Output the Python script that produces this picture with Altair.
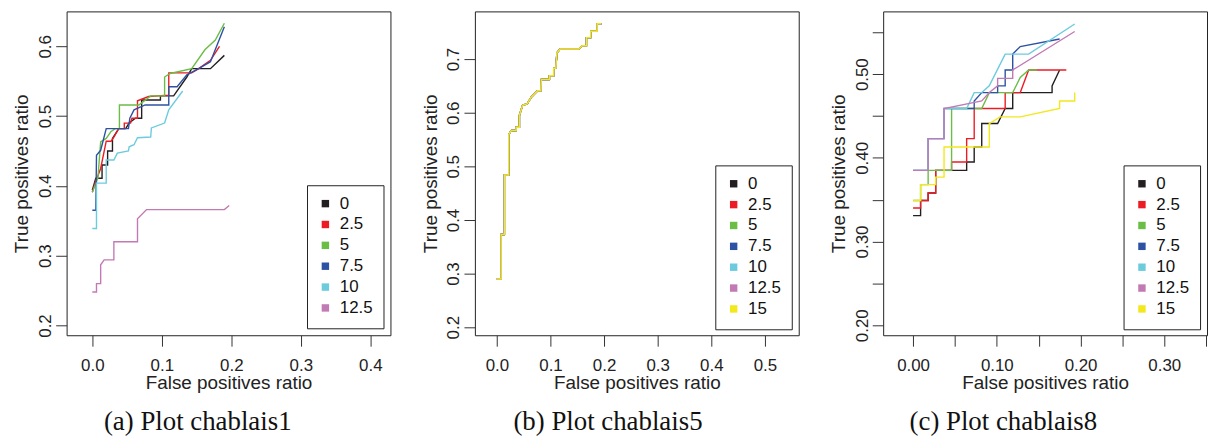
import altair as alt
import pandas as pd

# ---------------- data ----------------
SERIES = ["0", "2.5", "5", "7.5", "10", "12.5", "15"]
COLORS = ["#231F20", "#EC1C24", "#6ABD45", "#2E52A3", "#6CCBDD", "#C27AB5", "#F2E81B"]

# Panel (a) chablais1
P1_0_X = [0.000, 0.005, 0.014, 0.014, 0.022, 0.022, 0.029, 0.029, 0.038, 0.048, 0.053, 0.062, 0.071, 0.071, 0.098, 0.098, 0.117, 0.136, 0.143, 0.170, 0.190]
P1_0_Y = [0.394, 0.411, 0.411, 0.430, 0.430, 0.450, 0.450, 0.468, 0.482, 0.482, 0.490, 0.497, 0.497, 0.523, 0.523, 0.529, 0.529, 0.556, 0.568, 0.568, 0.587]
P1_25_X = [0.000, 0.004, 0.012, 0.020, 0.027, 0.031, 0.038, 0.046, 0.046, 0.055, 0.057, 0.065, 0.065, 0.081, 0.110, 0.110, 0.143, 0.153, 0.170, 0.183]
P1_25_Y = [0.391, 0.404, 0.425, 0.464, 0.464, 0.470, 0.482, 0.482, 0.490, 0.490, 0.497, 0.497, 0.522, 0.528, 0.530, 0.562, 0.562, 0.568, 0.580, 0.600]
P1_5_X = [0.000, 0.008, 0.012, 0.020, 0.027, 0.033, 0.039, 0.039, 0.067, 0.084, 0.104, 0.104, 0.112, 0.143, 0.162, 0.177, 0.190]
P1_5_Y = [0.391, 0.411, 0.463, 0.468, 0.478, 0.482, 0.482, 0.516, 0.516, 0.529, 0.529, 0.556, 0.561, 0.568, 0.595, 0.609, 0.633]
P1_75_X = [0.000, 0.005, 0.006, 0.012, 0.020, 0.052, 0.054, 0.060, 0.076, 0.110, 0.110, 0.122, 0.136, 0.153, 0.170, 0.190]
P1_75_Y = [0.365, 0.365, 0.444, 0.451, 0.482, 0.482, 0.497, 0.509, 0.516, 0.516, 0.542, 0.542, 0.559, 0.568, 0.578, 0.628]
P1_10_X = [0.000, 0.006, 0.006, 0.020, 0.020, 0.031, 0.036, 0.052, 0.053, 0.060, 0.065, 0.084, 0.085, 0.104, 0.110, 0.130]
P1_10_Y = [0.339, 0.339, 0.404, 0.404, 0.437, 0.437, 0.447, 0.450, 0.456, 0.459, 0.469, 0.470, 0.483, 0.490, 0.509, 0.536]
P1_125_X = [0.000, 0.006, 0.006, 0.012, 0.012, 0.017, 0.031, 0.031, 0.065, 0.065, 0.078, 0.190, 0.197]
P1_125_Y = [0.248, 0.248, 0.260, 0.260, 0.287, 0.294, 0.294, 0.320, 0.320, 0.353, 0.366, 0.366, 0.372]

# Panel (b) chablais5 (all settings give the same curve)
P2_X = [0.000, 0.008, 0.008, 0.014, 0.014, 0.022, 0.022, 0.027, 0.036, 0.036, 0.042, 0.042, 0.048, 0.057, 0.064, 0.076, 0.082, 0.083, 0.098, 0.098, 0.106, 0.106, 0.110, 0.112, 0.118, 0.153, 0.159, 0.167, 0.167, 0.175, 0.175, 0.187, 0.187, 0.195]
P2_Y = [0.290, 0.290, 0.373, 0.373, 0.484, 0.484, 0.559, 0.567, 0.567, 0.573, 0.573, 0.595, 0.614, 0.617, 0.629, 0.641, 0.641, 0.662, 0.662, 0.669, 0.669, 0.683, 0.683, 0.712, 0.719, 0.719, 0.725, 0.725, 0.740, 0.740, 0.752, 0.752, 0.766, 0.766]

# Panel (c) chablais8
P3_0_X = [0.000, 0.009, 0.009, 0.018, 0.018, 0.027, 0.027, 0.064, 0.064, 0.073, 0.073, 0.082, 0.082, 0.101, 0.110, 0.119, 0.119, 0.166, 0.166, 0.175]
P3_0_Y = [0.331, 0.331, 0.349, 0.349, 0.358, 0.358, 0.385, 0.385, 0.395, 0.395, 0.413, 0.413, 0.441, 0.441, 0.459, 0.459, 0.478, 0.478, 0.486, 0.505]
P3_25_X = [0.000, 0.009, 0.009, 0.018, 0.018, 0.027, 0.027, 0.046, 0.046, 0.064, 0.064, 0.073, 0.073, 0.110, 0.110, 0.128, 0.138, 0.183]
P3_25_Y = [0.340, 0.340, 0.349, 0.349, 0.358, 0.358, 0.385, 0.385, 0.395, 0.395, 0.423, 0.423, 0.459, 0.459, 0.478, 0.478, 0.505, 0.505]
P3_5_X = [0.000, 0.009, 0.009, 0.018, 0.018, 0.046, 0.046, 0.082, 0.091, 0.119, 0.128, 0.138, 0.148]
P3_5_Y = [0.349, 0.349, 0.368, 0.368, 0.385, 0.385, 0.459, 0.459, 0.478, 0.478, 0.496, 0.505, 0.505]
P3_75_X = [0.000, 0.018, 0.018, 0.037, 0.037, 0.073, 0.073, 0.082, 0.101, 0.101, 0.110, 0.110, 0.119, 0.119, 0.128, 0.175]
P3_75_Y = [0.385, 0.385, 0.423, 0.423, 0.459, 0.459, 0.468, 0.478, 0.478, 0.486, 0.486, 0.505, 0.505, 0.524, 0.533, 0.542]
P3_10_X = [0.000, 0.018, 0.018, 0.037, 0.037, 0.064, 0.073, 0.082, 0.091, 0.110, 0.138, 0.193]
P3_10_Y = [0.385, 0.385, 0.423, 0.423, 0.459, 0.459, 0.478, 0.478, 0.486, 0.524, 0.524, 0.560]
P3_125_X = [0.000, 0.018, 0.018, 0.037, 0.037, 0.082, 0.091, 0.101, 0.101, 0.119, 0.119, 0.193]
P3_125_Y = [0.385, 0.385, 0.423, 0.423, 0.459, 0.468, 0.478, 0.486, 0.495, 0.495, 0.505, 0.551]
P3_15_X = [0.000, 0.009, 0.009, 0.027, 0.027, 0.037, 0.037, 0.091, 0.091, 0.104, 0.128, 0.175, 0.175, 0.193, 0.193]
P3_15_Y = [0.349, 0.349, 0.368, 0.368, 0.377, 0.377, 0.413, 0.413, 0.441, 0.449, 0.449, 0.459, 0.468, 0.468, 0.478]

P1_TICKS_X = [0.0, 0.1, 0.2, 0.3, 0.4]
P1_TICKS_Y = [0.2, 0.3, 0.4, 0.5, 0.6]
P2_TICKS_X = [0.0, 0.1, 0.2, 0.3, 0.4, 0.5]
P2_TICKS_Y = [0.2, 0.3, 0.4, 0.5, 0.6, 0.7]
P3_TICKS_X = [0.0, 0.05, 0.10, 0.15, 0.20, 0.25, 0.30, 0.35]
P3_TICKS_Y = [0.20, 0.25, 0.30, 0.35, 0.40, 0.45, 0.50, 0.55]

CAPTIONS = ["(a) Plot chablais1", "(b) Plot chablais5", "(c) Plot chablais8"]
X_TITLE = "False positives ratio"
Y_TITLE = "True positives ratio"


def frame(series):
    rows = []
    for name, xs, ys in series:
        for i, (x, y) in enumerate(zip(xs, ys)):
            rows.append({"series": name, "fpr": x, "tpr": y, "i": i})
    return pd.DataFrame(rows)


def panel(df, names, xdom, ydom, xticks, yticks, xexpr, yexpr, caption, legend_y, cap_dx):
    legend = alt.Legend(
        title=None, orient="none", legendX=242, legendY=legend_y,
        symbolType="square", symbolSize=12, symbolStrokeWidth=4,
        strokeColor="#222", fillColor="white", padding=10, cornerRadius=0,
        labelFont="Liberation Sans", labelFontSize=17, labelColor="#111",
        labelOffset=6, rowPadding=0, symbolOpacity=1,
    )
    return alt.Chart(df).mark_line(strokeWidth=1.4, clip=True).encode(
        x=alt.X("fpr:Q", title=X_TITLE,
                scale=alt.Scale(domain=xdom, nice=False, zero=False),
                axis=alt.Axis(values=xticks, labelExpr=xexpr)),
        y=alt.Y("tpr:Q", title=Y_TITLE,
                scale=alt.Scale(domain=ydom, nice=False, zero=False),
                axis=alt.Axis(values=yticks, labelExpr=yexpr, labelAngle=270)),
        color=alt.Color("series:N", sort=names,
                        scale=alt.Scale(domain=names, range=COLORS[:len(names)]),
                        legend=legend),
        order=alt.Order("i:Q"),
    ).properties(
        width=326, height=326,
        title=alt.TitleParams(caption, orient="bottom", anchor="middle", frame="group",
                              font="Liberation Serif", fontSize=27, fontWeight="normal",
                              color="#111", offset=16, dx=cap_dx),
    )


df1 = frame([
    ("0", P1_0_X, P1_0_Y), ("2.5", P1_25_X, P1_25_Y), ("5", P1_5_X, P1_5_Y),
    ("7.5", P1_75_X, P1_75_Y), ("10", P1_10_X, P1_10_Y), ("12.5", P1_125_X, P1_125_Y),
])
df2 = frame([(s, P2_X, P2_Y) for s in SERIES])
df3 = frame([
    ("0", P3_0_X, P3_0_Y), ("2.5", P3_25_X, P3_25_Y), ("5", P3_5_X, P3_5_Y),
    ("7.5", P3_75_X, P3_75_Y), ("10", P3_10_X, P3_10_Y), ("12.5", P3_125_X, P3_125_Y),
    ("15", P3_15_X, P3_15_Y),
])

fmt1 = "format(datum.value, '.1f')"
fmt3 = "round(datum.value * 100) % 10 == 0 ? format(datum.value, '.2f') : ''"

c1 = panel(df1, SERIES[:6], [-0.037, 0.429], [0.186, 0.650], P1_TICKS_X, P1_TICKS_Y, fmt1, fmt1, CAPTIONS[0], 175, -31)
c2 = panel(df2, SERIES, [-0.041, 0.563], [0.185, 0.789], P2_TICKS_X, P2_TICKS_Y, fmt1, fmt1, CAPTIONS[1], 155, -29)
c3 = panel(df3, SERIES, [-0.0357, 0.351], [0.188, 0.575], P3_TICKS_X, P3_TICKS_Y, fmt3, fmt3, CAPTIONS[2], 155, -42)

chart = alt.hconcat(c1, c2, c3, spacing=85, bounds="flush", padding={"left": 4, "top": 1, "right": 0, "bottom": 0}).resolve_scale(
    color="independent", x="independent", y="independent"
).resolve_legend(color="independent").configure_view(
    stroke="#222", strokeWidth=1
).configure_axis(
    domain=False, grid=False, tickColor="#333", tickSize=11, tickWidth=1,
    labelFont="Liberation Sans", labelFontSize=17, labelColor="#222",
    labelOverlap=False, labelFlush=False,
    titleFont="Liberation Sans", titleFontSize=19, titleFontWeight="normal", titleColor="#222",
).configure_axisY(titlePadding=5, labelPadding=1).configure_axisX(titlePadding=1, labelPadding=11)

chart.save("out.html", embed_options={"renderer": "svg", "actions": False})
